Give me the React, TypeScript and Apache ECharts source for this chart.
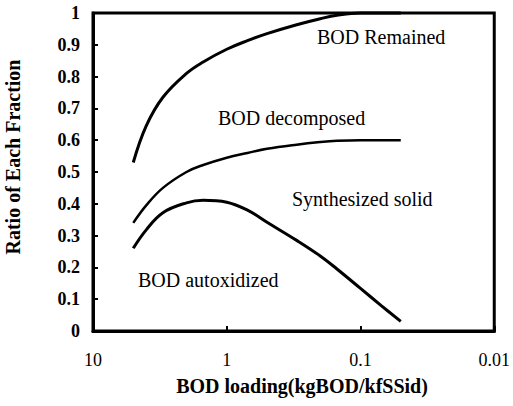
import React, { useEffect, useRef } from "react";
import * as echarts from "echarts";

const loading = [5, 4, 3, 2, 1.5, 1, 0.7, 0.5, 0.3, 0.2, 0.15, 0.1, 0.07, 0.05];
const remained = [0.53, 0.645, 0.735, 0.81, 0.846, 0.886, 0.913, 0.935, 0.963, 0.982, 0.993, 1.0, 1.0, 1.0];
const decomposed = [0.34, 0.395, 0.45, 0.5, 0.522, 0.545, 0.56, 0.573, 0.586, 0.594, 0.598, 0.6, 0.6, 0.6];
const autoxidized = [0.26, 0.318, 0.372, 0.403, 0.411, 0.405, 0.38, 0.342, 0.285, 0.236, 0.195, 0.134, 0.08, 0.03];

const regionLabels = ["BOD Remained", "BOD decomposed", "Synthesized solid", "BOD autoxidized"];
const xAxisTitle = "BOD loading(kgBOD/kfSSid)";
const yAxisTitle = "Ratio of Each Fraction";

const FONT = "'Liberation Serif', 'Times New Roman', serif";

export default function App() {
  const ref = useRef<HTMLDivElement>(null);
  useEffect(() => {
    if (!ref.current) return;
    const chart = echarts.init(ref.current, null, { renderer: "svg" });
    const pair = (ys: number[]) => loading.map((x, i) => [x, ys[i]]);
    const lineSeries = (name: string, ys: number[], w: number) => ({
      name,
      type: "line",
      data: pair(ys),
      smooth: 0.4,
      symbol: "none",
      clip: false,
      lineStyle: { color: "#000", width: w },
    });
    const labelText = (text: string, x: number, y: number) => ({
      type: "text",
      x,
      y,
      style: {
        text,
        fill: "#000",
        font: `20px ${FONT}`,
        textAlign: "left",
        textVerticalAlign: "middle",
      },
    });
    chart.setOption({
      animation: false,
      backgroundColor: "#fff",
      grid: {
        left: 93,
        right: 14,
        top: 13,
        bottom: 75,
        show: true,
        borderColor: "#000",
        borderWidth: 3,
        backgroundColor: "transparent",
      },
      xAxis: {
        type: "log",
        logBase: 10,
        min: 0.01,
        max: 10,
        inverse: true,
        axisLine: { show: true, lineStyle: { color: "#000", width: 3 } },
        axisTick: { show: true, inside: true, length: 5, lineStyle: { color: "#000", width: 2 } },
        splitLine: { show: false },
        minorTick: { show: false },
        axisLabel: {
          margin: 20,
          color: "#000",
          fontFamily: FONT,
          fontSize: 18,
          formatter: (v: number) => String(+Number(v).toPrecision(3)),
        },
      },
      yAxis: {
        type: "value",
        min: 0,
        max: 1,
        interval: 0.1,
        axisLine: { show: true, lineStyle: { color: "#000", width: 3 } },
        axisTick: { show: true, inside: true, length: 5, lineStyle: { color: "#000", width: 2 } },
        splitLine: { show: false },
        axisLabel: {
          margin: 13,
          color: "#000",
          fontFamily: FONT,
          fontSize: 18,
          fontWeight: "bold",
          formatter: (v: number) => String(+Number(v).toFixed(1)),
        },
      },
      series: [
        lineSeries(regionLabels[0], remained, 3),
        lineSeries(regionLabels[1], decomposed, 2.5),
        lineSeries(regionLabels[3], autoxidized, 3),
      ],
      graphic: [
        labelText(regionLabels[0], 317, 37),
        labelText(regionLabels[1], 218, 118),
        labelText(regionLabels[2], 292, 199),
        labelText(regionLabels[3], 138, 280),
        {
          type: "text",
          x: 302,
          y: 386,
          style: {
            text: xAxisTitle,
            fill: "#000",
            font: `bold 20px ${FONT}`,
            textAlign: "center",
            textVerticalAlign: "middle",
          },
        },
        {
          type: "text",
          x: 13,
          y: 157,
          rotation: Math.PI / 2,
          style: {
            text: yAxisTitle,
            fill: "#000",
            font: `bold 20px ${FONT}`,
            textAlign: "center",
            textVerticalAlign: "middle",
          },
        },
      ],
    });
    return () => chart.dispose();
  }, []);
  return <div ref={ref} style={{ width: 513, height: 406, position: "absolute", left: 0, top: 0 }} />;
}
